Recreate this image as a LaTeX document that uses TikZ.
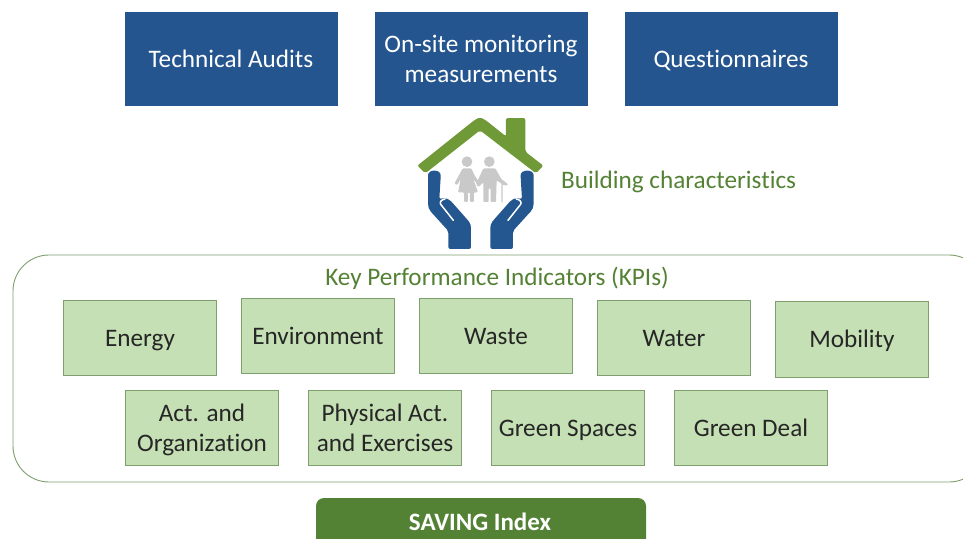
\documentclass[tikz,border=0pt]{standalone}
\usepackage{fontspec}
\setmainfont[Ligatures=NoCommon]{Carlito}
\newcommand\tstrut{\rule[-6.5pt]{0pt}{30pt}}
\definecolor{bluebox}{HTML}{25558F}
\definecolor{handblue}{HTML}{24578F}
\definecolor{dgreen}{HTML}{548235}
\definecolor{roofgreen}{HTML}{6F9A37}
\definecolor{kpifill}{HTML}{C5E0B4}
\definecolor{kpiline}{HTML}{7F9F6F}
\definecolor{figgrey}{HTML}{C9C9C9}
\tikzset{
 topbox/.style={fill=bluebox,draw=none,text=white,minimum width=213,minimum height=94,inner sep=0,align=center,font=\fontsize{25.2}{30}\selectfont},
 kpibox/.style={fill=kpifill,draw=kpiline,line width=0.9pt,minimum width=153,minimum height=75,inner sep=0,align=center,text=black!85,font=\fontsize{25.2}{30}\selectfont},
 greentext/.style={text=dgreen,inner sep=0,font=\fontsize{25.2}{30}\selectfont},
 hand/.style={fill=handblue,draw=none},
 person/.style={fill=figgrey,draw=none}
}
\begin{document}
\begin{tikzpicture}[x=1pt,y=-1pt]
\useasboundingbox (0,0) rectangle (963,538);
\clip (0,0) rectangle (963,538);
\node[topbox] (audits) at (231,59) {\tstrut Technical Audits};
\node[topbox] (onsite) at (481,59) {\tstrut On-site monitoring\\\tstrut measurements};
\node[topbox] (quest) at (731,59) {\tstrut Questionnaires};
\begin{scope}[shift={(400,105)},x=0.3333pt,y=-0.3333pt]
 % roof
 \fill[roofgreen,rounded corners=2pt] (52,182) -- (225,44) -- (240,37) -- (255,44) -- (318,94) -- (318,39) -- (376,39) -- (376,140) -- (430,182) -- (408,205) -- (240,76) -- (76,205) -- cycle;
 % left hand
 \fill[hand,rounded corners=2pt] (84,217) .. controls (84,192) and (122,192) .. (122,217) -- (118,282) -- (135,279) -- (150,285) -- (203,345) .. controls (211,355) and (213,362) .. (213,375) -- (213,432) -- (145,432) -- (145,378) -- (97,325) .. controls (87,314) and (84,305) .. (84,290) -- cycle;
 \draw[white,line width=1.5pt,line cap=round] (135,282) .. controls (125,284) and (118,290) .. (122,298) -- (160,346);
 % right hand
 \fill[hand,rounded corners=2pt] (401,217) .. controls (401,192) and (362,192) .. (362,217) -- (366,282) -- (349,279) -- (334,285) -- (281,345) .. controls (273,355) and (271,362) .. (271,375) -- (271,432) -- (339,432) -- (339,378) -- (387,325) .. controls (398,314) and (401,305) .. (401,290) -- cycle;
 \draw[white,line width=1.5pt,line cap=round] (349,282) .. controls (359,284) and (366,290) .. (362,298) -- (324,346);
 % woman
 \fill[person] (201,170) circle (16);
 \fill[person,rounded corners=1pt] (188,190) -- (180,205) -- (163,236) -- (172,240) -- (182,222) -- (174,262) -- (192,262) -- (192,291) -- (204,291) -- (204,262) -- (210,262) -- (210,291) -- (222,291) -- (222,262) -- (234,262) -- (220,222) -- (232,238) -- (238,232) -- (224,212) -- (214,190) -- cycle;
 % man
 \fill[person] (268,170) circle (16);
 \fill[person,rounded corners=1pt] (250,190) -- (286,190) -- (304,222) -- (322,236) -- (322,242) -- (310,240) -- (290,226) -- (288,291) -- (272,291) -- (272,250) -- (266,250) -- (266,291) -- (250,291) -- (250,232) -- (236,246) -- (228,238) -- cycle;
 \draw[figgrey,line width=1.4pt,line cap=round] (306,291) -- (306,240) .. controls (306,232) and (316,232) .. (321,238);
\end{scope}
\node[greentext,anchor=west] (bchar) at (561,180) {\tstrut Building characteristics};
\draw[kpiline,line width=0.9pt,rounded corners=36,fill=white] (13,255) rectangle (985,482);
\node[greentext] (kpi) at (497,277) {\tstrut Key Performance Indicators (KPIs)};
\node[kpibox] (energy) at (140,338) {\tstrut Energy};
\node[kpibox] (env) at (318,336) {\tstrut Environment};
\node[kpibox] (waste) at (496,336) {\tstrut Waste};
\node[kpibox] (water) at (674,338) {\tstrut Water};
\node[kpibox,minimum height=76] (mob) at (852,339) {\tstrut Mobility};
\node[kpibox] (act) at (202,428) {\tstrut Act. and\\\tstrut Organization};
\node[kpibox] (phys) at (385,428) {\tstrut Physical Act.\\\tstrut and Exercises};
\node[kpibox] (spaces) at (568,428) {\tstrut Green Spaces};
\node[kpibox] (deal) at (751,428) {\tstrut Green Deal};
\fill[dgreen,rounded corners=8] (316,498) rectangle (646,560);
\node[text=white,inner sep=0,font=\fontsize{25}{30}\selectfont\bfseries] (saving) at (480,522) {\tstrut SAVING Index};
\end{tikzpicture}
\end{document}
